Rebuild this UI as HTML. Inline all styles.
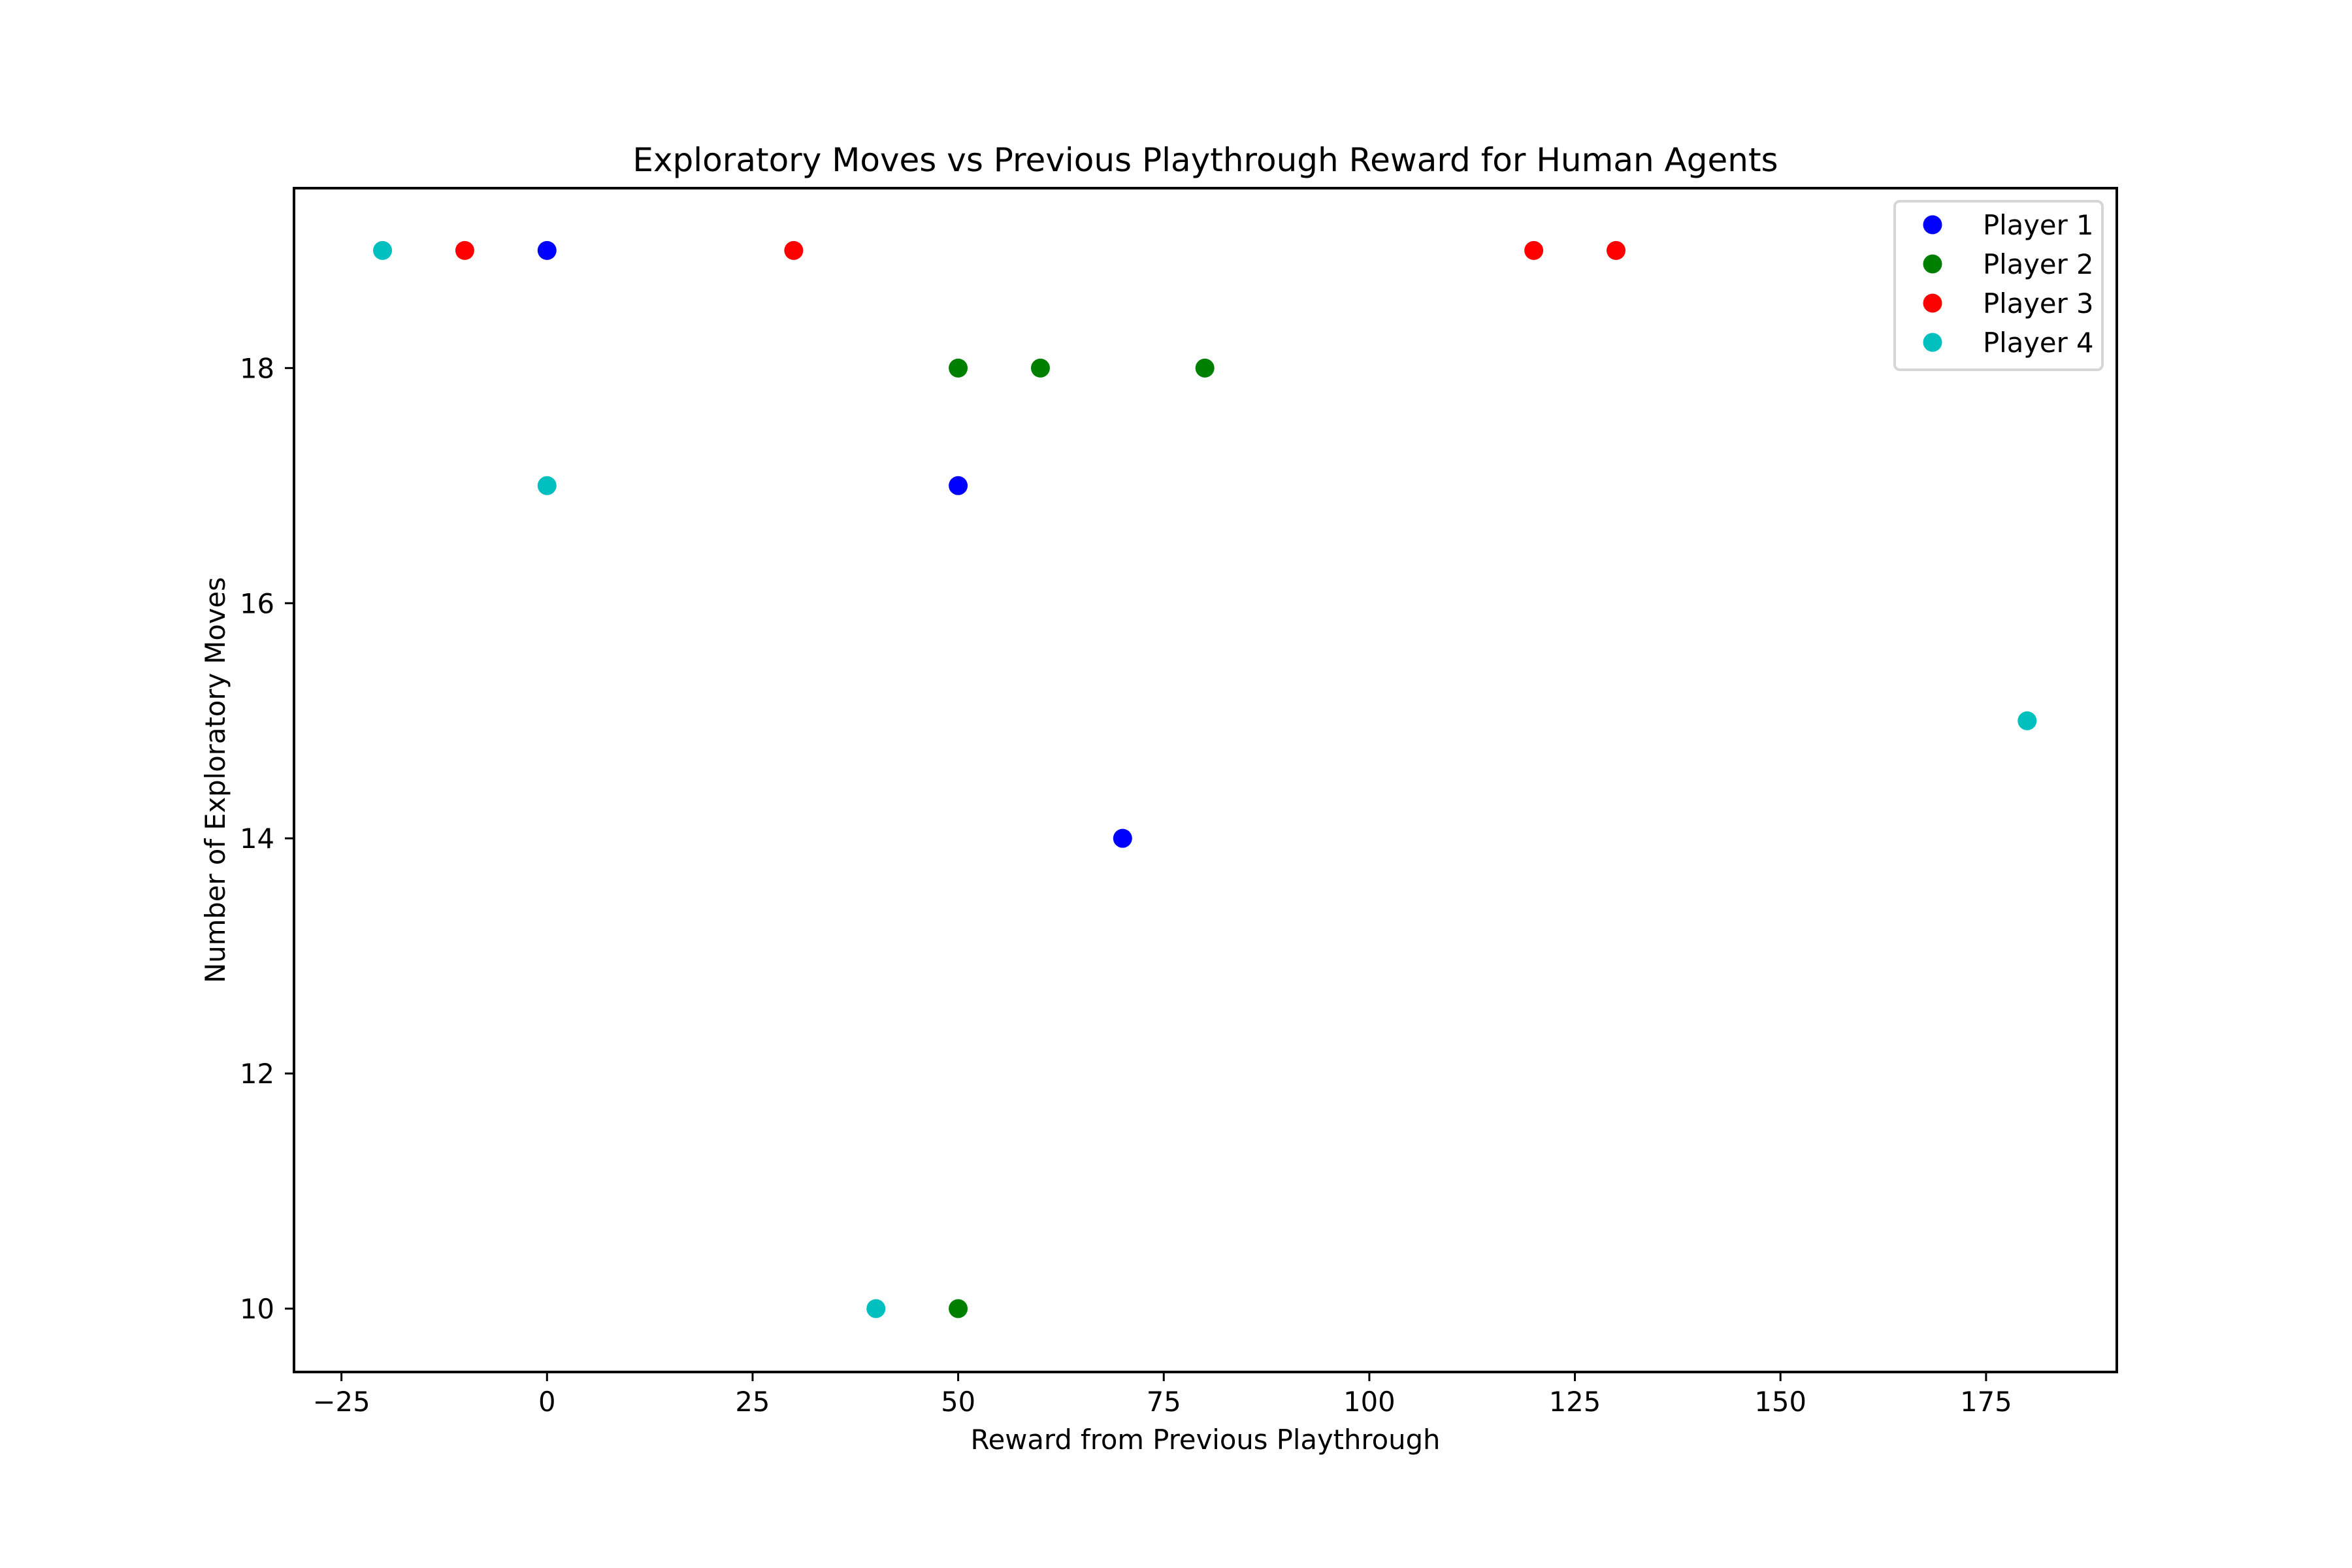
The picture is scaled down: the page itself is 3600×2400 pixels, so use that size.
<!DOCTYPE html>
<html><head><meta charset="utf-8"><style>
html,body{margin:0;padding:0;background:#fff;}
svg{display:block;font-family:"DejaVu Sans","Liberation Sans",sans-serif;}
</style></head><body>
<svg id="chart" width="3600" height="2400" viewBox="0 0 3600 2400" xmlns="http://www.w3.org/2000/svg">
<rect width="3600" height="2400" fill="#fff"/>
<text x="1845" y="262" font-size="50" text-anchor="middle">Exploratory Moves vs Previous Playthrough Reward for Human Agents</text>
<g id="ticks"></g>
<g id="points"></g>
<rect x="450" y="288" width="2790" height="1812" fill="none" stroke="#000" stroke-width="4"/>
<text x="1845" y="2218" font-size="41.7" text-anchor="middle">Reward from Previous Playthrough</text>
<text x="344" y="1194" font-size="41.7" text-anchor="middle" transform="rotate(-90 344 1194)">Number of Exploratory Moves</text>
<g id="legend">
<rect x="2900" y="308" width="318" height="258" rx="8" fill="#fff" stroke="#d6d6d6" stroke-width="4"/>
</g>
</svg>
<script>
const seriesNames = ["Player 1","Player 2","Player 3","Player 4"];
const seriesColors = ["#0000ff","#008000","#ff0000","#00bfbf"];
const p1x = [0,50,70];
const p1y = [19,17,14];
const p2x = [50,60,80,50];
const p2y = [18,18,18,10];
const p3x = [-10,30,120,130];
const p3y = [19,19,19,19];
const p4x = [-20,0,40,180];
const p4y = [19,17,10,15];
const xTicks = [-25,0,25,50,75,100,125,150,175];
const xTickLabels = ["\u221225","0","25","50","75","100","125","150","175"];
const yTicks = [10,12,14,16,18];
const yTickLabels = ["10","12","14","16","18"];

const NS = "http://www.w3.org/2000/svg";
const L=450,R=3240,T=288,B=2100;
const xMin=-30.77,xMax=190.9,yMin=9.461,yMax=19.53;
function sx(v){return L+(v-xMin)/(xMax-xMin)*(R-L);}
function sy(v){return B-(v-yMin)/(yMax-yMin)*(B-T);}
function mk(tag,attrs){const e=document.createElementNS(NS,tag);for(const k in attrs)e.setAttribute(k,attrs[k]);return e;}

const tg=document.getElementById('ticks');
xTicks.forEach((v,i)=>{
  const x=sx(v);
  const ln=mk('line',{x1:x,x2:x,y1:B,y2:B+14,stroke:'#000','stroke-width':3});
  
  
  tg.appendChild(ln);
  const t=mk('text',{x:x,y:B+60,'font-size':41.7,'text-anchor':'middle'});
  
  
  t.textContent=xTickLabels[i];tg.appendChild(t);
});
yTicks.forEach((v,i)=>{
  const y=sy(v);
  const ln=mk('line',{x1:L-14,x2:L,y1:y,y2:y,stroke:'#000','stroke-width':3});
  
  
  tg.appendChild(ln);
  const t=mk('text',{x:L-30,y:y+15,'font-size':41.7,'text-anchor':'end'});
  
  
  t.textContent=yTickLabels[i];tg.appendChild(t);
});

const pg=document.getElementById('points');
const allX=[p1x,p2x,p3x,p4x], allY=[p1y,p2y,p3y,p4y];
allX.forEach((xs,s)=>{
  xs.forEach((xv,i)=>{
    const c=mk('circle',{cx:sx(xv),cy:sy(allY[s][i]),r:14.5,fill:seriesColors[s]});
    
    
    pg.appendChild(c);
  });
});

const lg=document.getElementById('legend');
seriesNames.forEach((n,i)=>{
  const y=344+i*60;
  const c=mk('circle',{cx:2958,cy:y,r:14.5,fill:seriesColors[i]});
  
  
  lg.appendChild(c);
  const t=mk('text',{x:3035,y:y+15,'font-size':41.7});
  
  
  t.textContent=n;lg.appendChild(t);
});
</script>
</body></html>
